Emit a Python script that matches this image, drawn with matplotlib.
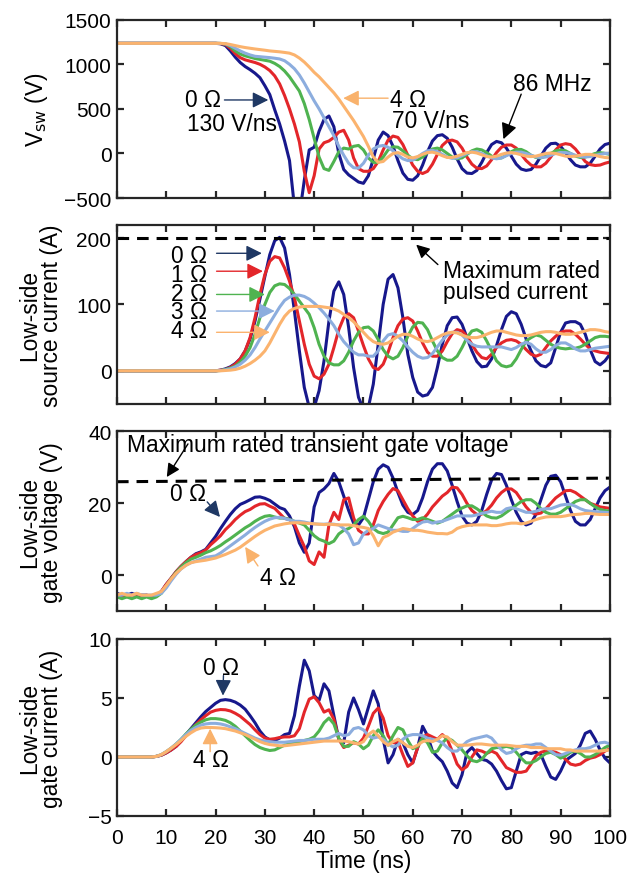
import matplotlib
matplotlib.use('Agg')
import matplotlib.pyplot as plt
import numpy as np

plt.rcParams['font.family'] = ['Liberation Sans', 'DejaVu Sans']

# time base, 1 ns steps
t = np.arange(0, 101, 1)

# switch-node voltage (V) for Rg = 0..4 ohm
vsw_0 = [1235] * 21 + [
    1230, 1210, 1150, 1080, 1020, 975, 940, 900, 850,
    760, 660, 490, 330, 140, -80, -600, -700, -300, 40,
    70, 250, 380, 420, 300, 0, -180, -240, -280, -320,
    -335, -250, -60, 150, 240, 200, 80, -80, -220, -290,
    -300, -250, -130, 20, 140, 200, 210, 170, 70, -60,
    -170, -220, -225, -190, -100, 10, 100, 135, 120, 60,
    -30, -120, -175, -190, -180, -120, -30, 60, 110, 115,
    80, 10, -70, -130, -150, -150, -110, -30, 50, 100,
    115]
vsw_1 = [1235] * 21 + [
    1233, 1222, 1180, 1120, 1075, 1050, 1035, 1020, 1000,
    970, 930, 870, 780, 650, 500, 330, 130, -200, -440,
    -250, 50, 120, 140, 180, 240, 260, 150, -50, -170,
    -200, -200, -170, -90, 40, 150, 195, 180, 100, -20,
    -130, -200, -225, -200, -120, -10, 90, 140, 150, 130,
    60, -40, -120, -165, -170, -140, -70, 10, 70, 95,
    95, 60, -10, -80, -130, -150, -150, -110, -40, 40,
    95, 110, 100, 50, -20, -90, -125, -135, -130, -110,
    -95]
vsw_2 = [1235] * 21 + [
    1234, 1228, 1200, 1150, 1115, 1095, 1080, 1065, 1055,
    1045, 1035, 1010, 975, 925, 860, 780, 700, 560, 380,
    170, -40, -170, -190, -90, 20, 60, 50, 80, 90,
    40, -50, -100, -100, -40, 40, 75, 70, 30, -20,
    -60, -70, -40, 10, 50, 60, 40, 0, -40, -60,
    -50, -10, 30, 50, 40, 10, -30, -55, -50, -20,
    20, 45, 45, 20, -20, -45, -50, -30, 0, 30,
    40, 30, 0, -30, -45, -40, -20, 0, 10, 0,
    -10]
vsw_3 = [1235] * 21 + [
    1234, 1230, 1210, 1180, 1150, 1125, 1105, 1090, 1085,
    1080, 1075, 1068, 1060, 1040, 1000, 950, 880, 790, 690,
    590, 500, 400, 300, 200, 80, -20, -110, -160, -165,
    -110, -20, 50, 80, 90, 70, 30, -20, -60, -80,
    -75, -40, 0, 30, 35, 20, -10, -40, -55, -50,
    -25, 0, 20, 20, 0, -25, -50, -60, -50, -25,
    0, 15, 15, 0, -20, -40, -45, -40, -20, 0,
    10, 10, 0, -20, -35, -40, -35, -20, -10, 0,
    0]
vsw_4 = [1235] * 22 + [
    1232, 1222, 1210, 1198, 1188, 1180, 1172, 1165,
    1158, 1150, 1145, 1140, 1133, 1125, 1105, 1070, 1025, 970,
    910, 860, 800, 740, 680, 610, 530, 450, 370, 280,
    190, 80, -40, -100, -90, -40, 0, 10, -10, -40,
    -50, -35, -10, 10, 15, 0, -25, -45, -45, -30,
    -10, 10, 15, 5, -15, -35, -40, -30, -10, 5,
    10, 0, -15, -30, -35, -30, -15, 0, 5, 0,
    -15, -30, -35, -30, -20, -10, -10, -20, -35, -45,
    -50]

# low-side source current (A)
id_0 = [0] * 21 + [
    1, 3, 6, 11, 18, 30, 48, 75, 108,
    142, 175, 196, 201, 185, 145, 90, 30, -25, -55,
    -55, -30, 15, 75, 120, 134, 115, 65, 5, -40,
    -58, -55, -20, 40, 100, 138, 145, 125, 80, 25,
    -10, -32, -38, -36, -25, 5, 40, 68, 80, 81,
    70, 50, 30, 14, 6, 7, 18, 38, 62, 82,
    89, 86, 70, 48, 30, 15, 8, 6, 12, 35,
    58, 72, 74, 74, 70, 55, 32, 14, 9, 15,
    25]
id_1 = [0] * 21 + [
    1, 2, 5, 10, 18, 30, 50, 80, 115,
    145, 165, 172, 170, 155, 135, 110, 75, 40, 10,
    -8, -12, -5, 10, 35, 62, 80, 86, 80, 60,
    38, 18, 5, 2, 10, 28, 50, 68, 78, 80,
    75, 60, 42, 28, 22, 22, 30, 44, 56, 62,
    60, 52, 40, 28, 20, 18, 25, 35, 42, 46,
    47, 45, 40, 32, 25, 22, 25, 35, 45, 52,
    58, 60, 60, 55, 48, 40, 33, 30, 28, 27,
    26]
id_2 = [0] * 21 + [
    0.5, 2, 4, 7, 13, 22, 35, 55, 80,
    100, 118, 128, 131, 130, 124, 115, 105, 95, 85,
    65, 40, 22, 12, 9, 9, 15, 28, 45, 58,
    65, 66, 60, 47, 32, 22, 18, 22, 35, 52,
    66, 73, 72, 62, 45, 30, 20, 16, 16, 22,
    35, 50, 60, 62, 58, 45, 30, 15, 8, 6,
    8, 18, 32, 45, 50, 54, 52, 46, 40, 36,
    34, 33, 34, 34, 36, 40, 45, 50, 52, 52,
    51]
id_3 = [0] * 21 + [
    0.5, 1.5, 3, 6, 10, 16, 24, 35, 48,
    60, 72, 84, 96, 106, 111, 114, 114, 112, 108,
    102, 95, 87, 78, 68, 55, 44, 36, 28, 24,
    24, 22, 22, 30, 45, 54, 56, 52, 45, 36,
    28, 22, 19, 20, 26, 36, 46, 54, 58, 58,
    54, 46, 40, 37, 36, 36, 36, 36, 36, 34,
    32, 35, 40, 43, 40, 33, 28, 28, 32, 38,
    42, 42, 38, 33, 30, 30, 32, 34, 35, 36,
    37]
id_4 = [0] * 22 + [
    0.5, 1, 2, 4, 7, 11, 16, 22,
    30, 42, 56, 70, 82, 90, 94, 96, 97, 97,
    97, 97, 96, 95, 93, 90, 85, 80, 74, 66,
    58, 50, 44, 41, 40, 42, 47, 52, 55, 55,
    52, 48, 45, 44, 46, 50, 54, 57, 58, 57,
    54, 51, 50, 50, 52, 55, 58, 60, 60, 58,
    56, 54, 53, 53, 54, 56, 58, 59, 59, 58,
    56, 55, 55, 56, 58, 60, 62, 62, 61, 59,
    58]

# low-side gate voltage (V)
vgs_0 = [
    -5, -5.5, -5.5, -5, -5.5, -5.5, -5.5, -6, -5.5, -4.5,
    -2.5, -0.8, 1, 2.5, 3.8, 5, 6, 6.5, 7.2, 9,
    10.8, 13, 15, 16.9, 18.5, 19.7, 20.3, 21, 21.7, 21.8,
    21.4, 20.8, 19.8, 18.8, 18.3, 16.5, 13.5, 9, 6.4, 9,
    19, 23, 24, 25.5, 28.3, 26, 22, 18, 14.5, 14,
    16, 21, 26, 29.5, 30.7, 30, 27, 23, 19.5, 17.5,
    16.9, 18, 21.5, 26, 29.5, 31, 31, 29, 25, 20.5,
    16.5, 14.5, 14, 15, 18, 22.5, 26.5, 28.3, 28, 25,
    21, 17.5, 15, 14, 14.5, 17, 21, 25, 27.5, 27.8,
    26, 22, 18, 15, 14, 14, 15.5, 18.5, 21.5, 23.5,
    24.5]
vgs_1 = [
    -5.5, -5.5, -6, -5.5, -5.5, -6, -5.5, -6, -5.5, -4.5,
    -2.5, -0.8, 1, 2.5, 3.8, 5, 5.8, 6.3, 7, 8.5,
    9.7, 11, 12.7, 14, 15.5, 16.7, 17.7, 18.3, 19.2, 19.8,
    19.9, 19.2, 18.6, 17.2, 15.8, 15.5, 14.2, 11, 8, 4,
    3, 6.5, 5, 14, 17.5, 15.5, 21, 21.5, 16, 12.5,
    11.5, 11.5, 14, 18, 20.5, 22.5, 24.1, 23.5, 21, 18.5,
    16.5, 15, 15.5, 17, 19, 20.5, 22, 23, 24.5, 24.3,
    22.5, 20, 18, 16.9, 17, 18, 19.5, 21.5, 23, 24,
    24, 23, 21, 19, 17.5, 17, 17.3, 18.5, 20, 21.5,
    22.5, 23.5, 23.6, 23, 22, 21, 20, 19.5, 19, 18.8,
    18.6]
vgs_2 = [
    -6, -6.5, -6, -6.5, -6, -6.5, -6, -6.5, -6, -5,
    -3, -1, 0.8, 2.3, 3.5, 4.5, 5, 5.6, 6.3, 6.8,
    7.5, 8.3, 9.3, 10.2, 11.2, 12.2, 13.2, 14, 15, 15.8,
    16.4, 16.6, 16.2, 15.9, 15.9, 15.5, 15, 14.5, 14, 12.5,
    11, 10, 9.5, 8.8, 9.5, 11.5, 12.5, 13, 14, 15.5,
    16.4, 15, 13, 12, 11.6, 12, 14, 16, 16.4, 16,
    15.5, 15.5, 16, 15.5, 15, 14.5, 15, 16, 17, 18,
    18.7, 19.3, 19.3, 18.5, 17.5, 16.5, 16, 15.9, 16.5, 17.5,
    18.5, 19.5, 20.5, 21, 21, 20, 18.5, 17.5, 17, 17,
    17.5, 18.5, 19.5, 20.5, 21, 21, 20, 19, 18.3, 18,
    17.8]
vgs_3 = [
    -5.5, -5.5, -5, -5.5, -5, -5.5, -5.5, -5.5, -5.5, -5,
    -3.5, -1.5, 0.3, 1.8, 2.8, 3.5, 4, 4.5, 5, 5.2,
    5.4, 6.2, 7.2, 8.2, 9.2, 10.2, 11.2, 12.3, 13.3, 14.2,
    15, 15.6, 16, 16.1, 15.8, 15.4, 15, 15, 14.8, 14.5,
    14.3, 14.2, 14.2, 14.3, 14.2, 14, 13, 11.5, 8.5, 9,
    11.5, 12.5, 13, 14, 13.5, 13, 12.5, 12.5, 12.2, 12.2,
    13, 14, 14.8, 15, 14.5, 14.8, 15, 15.5, 16, 16.5,
    16.5, 16.5, 16.5, 16.8, 17.2, 17.5, 17.8, 17.5, 17.5, 18.5,
    18.8, 18.5, 18, 17.5, 17.5, 17.8, 18.3, 18.5, 18.5, 19,
    19.5, 19.7, 19.7, 19.2, 18.5, 18, 17.8, 17.7, 17.6, 17.5,
    17.4]
vgs_4 = [
    -5.5, -5, -5.5, -5.5, -5, -5.5, -5.5, -5.5, -5, -4.5,
    -2.8, -1, 0.6, 1.8, 2.8, 3.5, 3.8, 4, 4.2, 4.5,
    4.8, 5.3, 5.8, 6.4, 7, 7.8, 8.8, 9.8, 10.8, 11.7,
    12.5, 13.1, 13.7, 14, 14.3, 14.5, 14.6, 14.6, 14.5, 14.4,
    14.3, 14.2, 14.1, 14.2, 14.1, 14, 14, 14, 13.8, 13.5,
    13.3, 13, 11, 8.2, 10.5, 11.1, 12, 12.5, 13, 12.8,
    12.5, 12.5, 12.3, 12, 11.8, 11.6, 11.6, 11.5, 12, 13,
    13.5, 13.8, 14, 14, 14, 14, 13.8, 13.8, 14, 14.3,
    14.5, 14.5, 14.3, 14.5, 15, 15.5, 15.9, 16.2, 16.3, 16.3,
    16.3, 16.5, 16.8, 16.9, 17, 17.2, 17.2, 17, 16.9, 16.9,
    16.9]

# low-side gate current (A)
ig_0 = [0] * 8 + [
    0.05, 0.15,
    0.35, 0.6, 0.9, 1.35, 1.9, 2.4, 2.9, 3.4, 3.85, 4.2,
    4.55, 4.8, 4.86, 4.8, 4.65, 4.4, 4.05, 3.5, 2.9, 2.2,
    1.7, 1.45, 1.4, 1.6, 1.9, 2.0, 3.5, 6.0, 8.2, 7.3,
    5.2, 4.8, 6.2, 5.6, 3.5, 1.5, 1.2, 3.8, 5.0, 4.0,
    2.8, 4.2, 5.6, 4.5, 1.5, -0.5, 0.2, 1.5, 1.2, 0.2,
    -0.5, 0.8, 2.6, 1.8, 0.5, 0.0, -0.4, -1.2, -2.2, -2.6,
    -1.5, 0.4, 0.8, 0.3, -0.2, -0.3, -0.6, -1.2, -2.0, -2.7,
    -2.6, -1.2, 0.2, 0.4, 0.3, 0.4, 0.2, -0.8, -1.7, -1.9,
    -1.2, -0.3, 0.0, 0.3, 1.0, 2.0, 2.2, 1.5, 0.6, -0.1,
    -0.5]
ig_1 = [0] * 8 + [
    0.05, 0.15,
    0.35, 0.6, 0.9, 1.3, 1.8, 2.3, 2.75, 3.15, 3.5, 3.8,
    3.95, 4.02, 4.0, 3.9, 3.7, 3.45, 3.1, 2.75, 2.3, 1.9,
    1.6, 1.5, 1.55, 1.65, 1.7, 1.7, 1.8, 2.4, 3.8, 4.9,
    5.1, 4.6, 3.8, 4.0, 3.2, 1.5, 0.8, 1.0, 1.2, 1.1,
    1.6, 2.6, 3.7, 4.15, 3.3, 1.8, 1.2, 1.3, 0.2, -0.8,
    -0.5, 0.8, 1.7, 1.9, 1.7, 1.5, 1.9, 1.5, 0.5, -0.6,
    -1.1, -0.8, 0.0, 0.6, 0.5, 0.3, 0.5, 0.3, -0.3, -0.9,
    -1.1, -1.3, -1.3, -1.2, -0.6, 0.1, 0.4, 0.5, 0.5, 0.4,
    0.2, -0.2, -0.6, -0.7, -0.6, -0.3, -0.1, 0.0, 0.2, 0.5,
    0.7]
ig_2 = [0] * 8 + [
    0.05, 0.2,
    0.45, 0.75, 1.1, 1.5, 1.95, 2.35, 2.7, 2.95, 3.15, 3.25,
    3.25, 3.2, 3.1, 2.9, 2.6, 2.2, 1.8, 1.4, 1.05, 0.8,
    0.65, 0.55, 0.6, 0.8, 1.0, 1.1, 1.2, 1.3, 1.4, 1.5,
    1.7, 2.2, 2.9, 3.3, 2.8, 1.6, 0.9, 0.9, 1.3, 1.1,
    0.7, 1.0, 1.8, 2.3, 1.8, 1.0, 1.8, 2.5, 2.3, 1.4,
    0.7, 0.9, 1.6, 1.2, 0.4, 0.5, 1.2, 1.6, 1.4, 1.0,
    0.6, 0.1, -0.3, -0.4, -0.2, 0.3, 0.7, 0.8, 0.8, 0.9,
    0.8, 0.4, -0.1, -0.5, -0.5, -0.3, 0.0, 0.3, 0.4, 0.2,
    -0.1, 0.1, 0.4, 0.5, 0.3, 0.0, 0.0, 0.2, 0.5, 0.8,
    1.0]
ig_3 = [0] * 8 + [
    0.05, 0.2,
    0.45, 0.75, 1.1, 1.5, 1.9, 2.25, 2.5, 2.7, 2.8, 2.85,
    2.85, 2.8, 2.7, 2.55, 2.4, 2.2, 2.0, 1.8, 1.6, 1.45,
    1.35, 1.3, 1.25, 1.25, 1.25, 1.3, 1.35, 1.4, 1.4, 1.45,
    1.5, 1.5, 1.5, 1.6, 1.8, 2.0, 1.8, 1.9, 2.4, 2.5,
    2.3, 1.8, 1.6, 1.7, 1.5, 1.1, 0.85, 1.0, 1.5, 1.8,
    1.9, 1.9, 1.8, 1.6, 1.5, 1.4, 1.2, 0.8, 0.5, 0.5,
    0.9, 1.3, 1.5, 1.6, 1.7, 1.8, 1.6, 1.1, 0.6, 0.3,
    0.4, 0.7, 0.9, 1.0, 1.0, 1.1, 1.1, 0.8, 0.5, 0.2,
    0.15, 0.3, 0.5, 0.6, 0.7, 0.7, 0.8, 1.0, 1.2, 1.25,
    1.1]
ig_4 = [0] * 8 + [
    0.05, 0.2,
    0.45, 0.75, 1.05, 1.4, 1.75, 2.05, 2.3, 2.45, 2.5, 2.5,
    2.48, 2.45, 2.4, 2.3, 2.2, 2.05, 1.9, 1.7, 1.5, 1.3,
    1.15, 1.05, 1.0, 0.95, 0.95, 1.0, 1.05, 1.1, 1.15, 1.2,
    1.25, 1.3, 1.35, 1.35, 1.35, 1.35, 1.35, 1.3, 1.2, 1.1,
    1.3, 1.9, 2.2, 1.8, 1.3, 1.0, 1.3, 1.5, 1.2, 0.9,
    0.8, 1.0, 1.3, 1.4, 1.3, 1.5, 1.8, 1.7, 1.3, 1.0,
    1.0, 1.0, 1.05, 1.1, 1.1, 1.05, 1.0, 1.0, 1.0, 1.0,
    0.95, 0.9, 0.9, 0.9, 0.8, 0.8, 0.8, 0.7, 0.7, 0.7,
    0.7, 0.6, 0.6, 0.5, 0.5, 0.5, 0.5, 0.5, 0.5, 0.55,
    0.6]

i_rated = 200          # maximum rated pulsed current (A)
vgs_rated = [26, 27]   # maximum rated transient gate voltage (V), ends of dashed line

colors = ['#17188c', '#e3262a', '#4fb350', '#8cadde', '#fbb36e']
navy = '#1f3864'
orange = '#f9b26c'

fig = plt.figure(figsize=(6.41, 8.78), dpi=100)
left, width = 0.1825, 0.769
ax1 = fig.add_axes([left, 0.7733, width, 0.2031])
ax2 = fig.add_axes([left, 0.5387, width, 0.2042])
ax3 = fig.add_axes([left, 0.3026, width, 0.2050])
ax4 = fig.add_axes([left, 0.0695, width, 0.2016])

tick_fs = 15
lab_fs = 16.4
series = [
    (ax1, [vsw_0, vsw_1, vsw_2, vsw_3, vsw_4], (-500, 1500), [-500, 0, 500, 1000, 1500],
     'V$_{\\rm sw}$ (V)', -0.135),
    (ax2, [id_0, id_1, id_2, id_3, id_4], (-50, 220), [0, 100, 200],
     'Low-side\nsource current (A)', -0.11),
    (ax3, [vgs_0, vgs_1, vgs_2, vgs_3, vgs_4], (-10, 40), [0, 20, 40],
     'Low-side\ngate voltage (V)', -0.11),
    (ax4, [ig_0, ig_1, ig_2, ig_3, ig_4], (-5, 10), [-5, 0, 5, 10],
     'Low-side\ngate current (A)', -0.11),
]
for ax, ys, ylim, yticks, ylabel, lx in series:
    for y, c in zip(ys, colors):
        ax.plot(t, y, color=c, lw=2.2)
    ax.set_xlim(0, 100)
    ax.set_ylim(*ylim)
    ax.set_yticks(yticks)
    ax.set_xticks(np.arange(0, 101, 10))
    ax.tick_params(direction='in', top=True, right=True, length=5,
                   width=1.6, labelsize=tick_fs, color='#262626', pad=4)
    ax.tick_params(axis='x', pad=9)
    for s in ax.spines.values():
        s.set_linewidth(1.6)
        s.set_color('#262626')
    ax.set_ylabel(ylabel, fontsize=lab_fs, linespacing=0.9)
    ax.yaxis.set_label_coords(lx, 0.5)
    if ax is not ax4:
        ax.set_xticklabels([])
ax4.set_xlabel('Time (ns)', fontsize=lab_fs, labelpad=1)

arr_fs = 16.4
def arrow(ax, xy, xytext, color, ms=24):
    ax.annotate('', xy=xy, xytext=xytext,
                arrowprops=dict(arrowstyle='-|>', color=color, lw=1.0,
                                mutation_scale=ms, shrinkA=0, shrinkB=0))

# switch-node voltage labels
ax1.text(13.8, 600, '0 Ω', fontsize=arr_fs, va='center')
ax1.text(14.2, 340, '130 V/ns', fontsize=arr_fs, va='center')
arrow(ax1, (30.7, 600), (21.8, 600), navy)
ax1.text(55.4, 610, '4 Ω', fontsize=arr_fs, va='center')
ax1.text(55.8, 365, '70 V/ns', fontsize=arr_fs, va='center')
arrow(ax1, (45.9, 620), (55.0, 620), orange)
ax1.text(80.3, 780, '86 MHz', fontsize=arr_fs, va='center')
arrow(ax1, (78.4, 160), (82.0, 665), 'black')

# source current labels, one stacked block
ax2.plot([0, 100], [i_rated, i_rated], color='black', lw=2.2,
         linestyle=(0, (3.8, 2.6)))
ax2.text(18.2, 117, '0 Ω\n1 Ω\n2 Ω\n3 Ω\n4 Ω', fontsize=arr_fs,
         va='center', ha='right', multialignment='right', linespacing=0.77)
for k, (ay, tip) in enumerate([(177, 29.4), (150, 29.6), (115, 30.0),
                               (90, 32.0), (58, 31.0)]):
    arrow(ax2, (tip, ay), (20.2, ay), colors[k] if k else navy)
ax2.text(66.1, 135, 'Maximum rated\npulsed current', fontsize=arr_fs,
         va='center', linespacing=0.9)
arrow(ax2, (60.7, 190), (65.1, 160), 'black', ms=20)

# gate voltage labels
ax3.plot([0, 100], vgs_rated, color='black', lw=2.2, linestyle=(0, (3.8, 2.6)))
ax3.text(2.0, 36.3, 'Maximum rated transient gate voltage', fontsize=arr_fs,
         va='center')
arrow(ax3, (10.1, 27.3), (14.4, 36.5), 'black', ms=20)
ax3.text(10.8, 22.6, '0 Ω', fontsize=arr_fs, va='center')
arrow(ax3, (20.9, 16.2), (18.3, 20.4), navy)
ax3.text(29.0, -0.5, '4 Ω', fontsize=arr_fs, va='center')
arrow(ax3, (26.0, 7.9), (28.6, 2.6), orange)

# gate current labels
ax4.text(17.4, 7.6, '0 Ω', fontsize=arr_fs, va='center')
arrow(ax4, (21.5, 5.2), (21.6, 6.9), navy)
ax4.text(15.4, -0.25, '4 Ω', fontsize=arr_fs, va='center')
arrow(ax4, (18.9, 2.4), (18.9, 0.45), orange)

plt.savefig('out.png', dpi=100)
